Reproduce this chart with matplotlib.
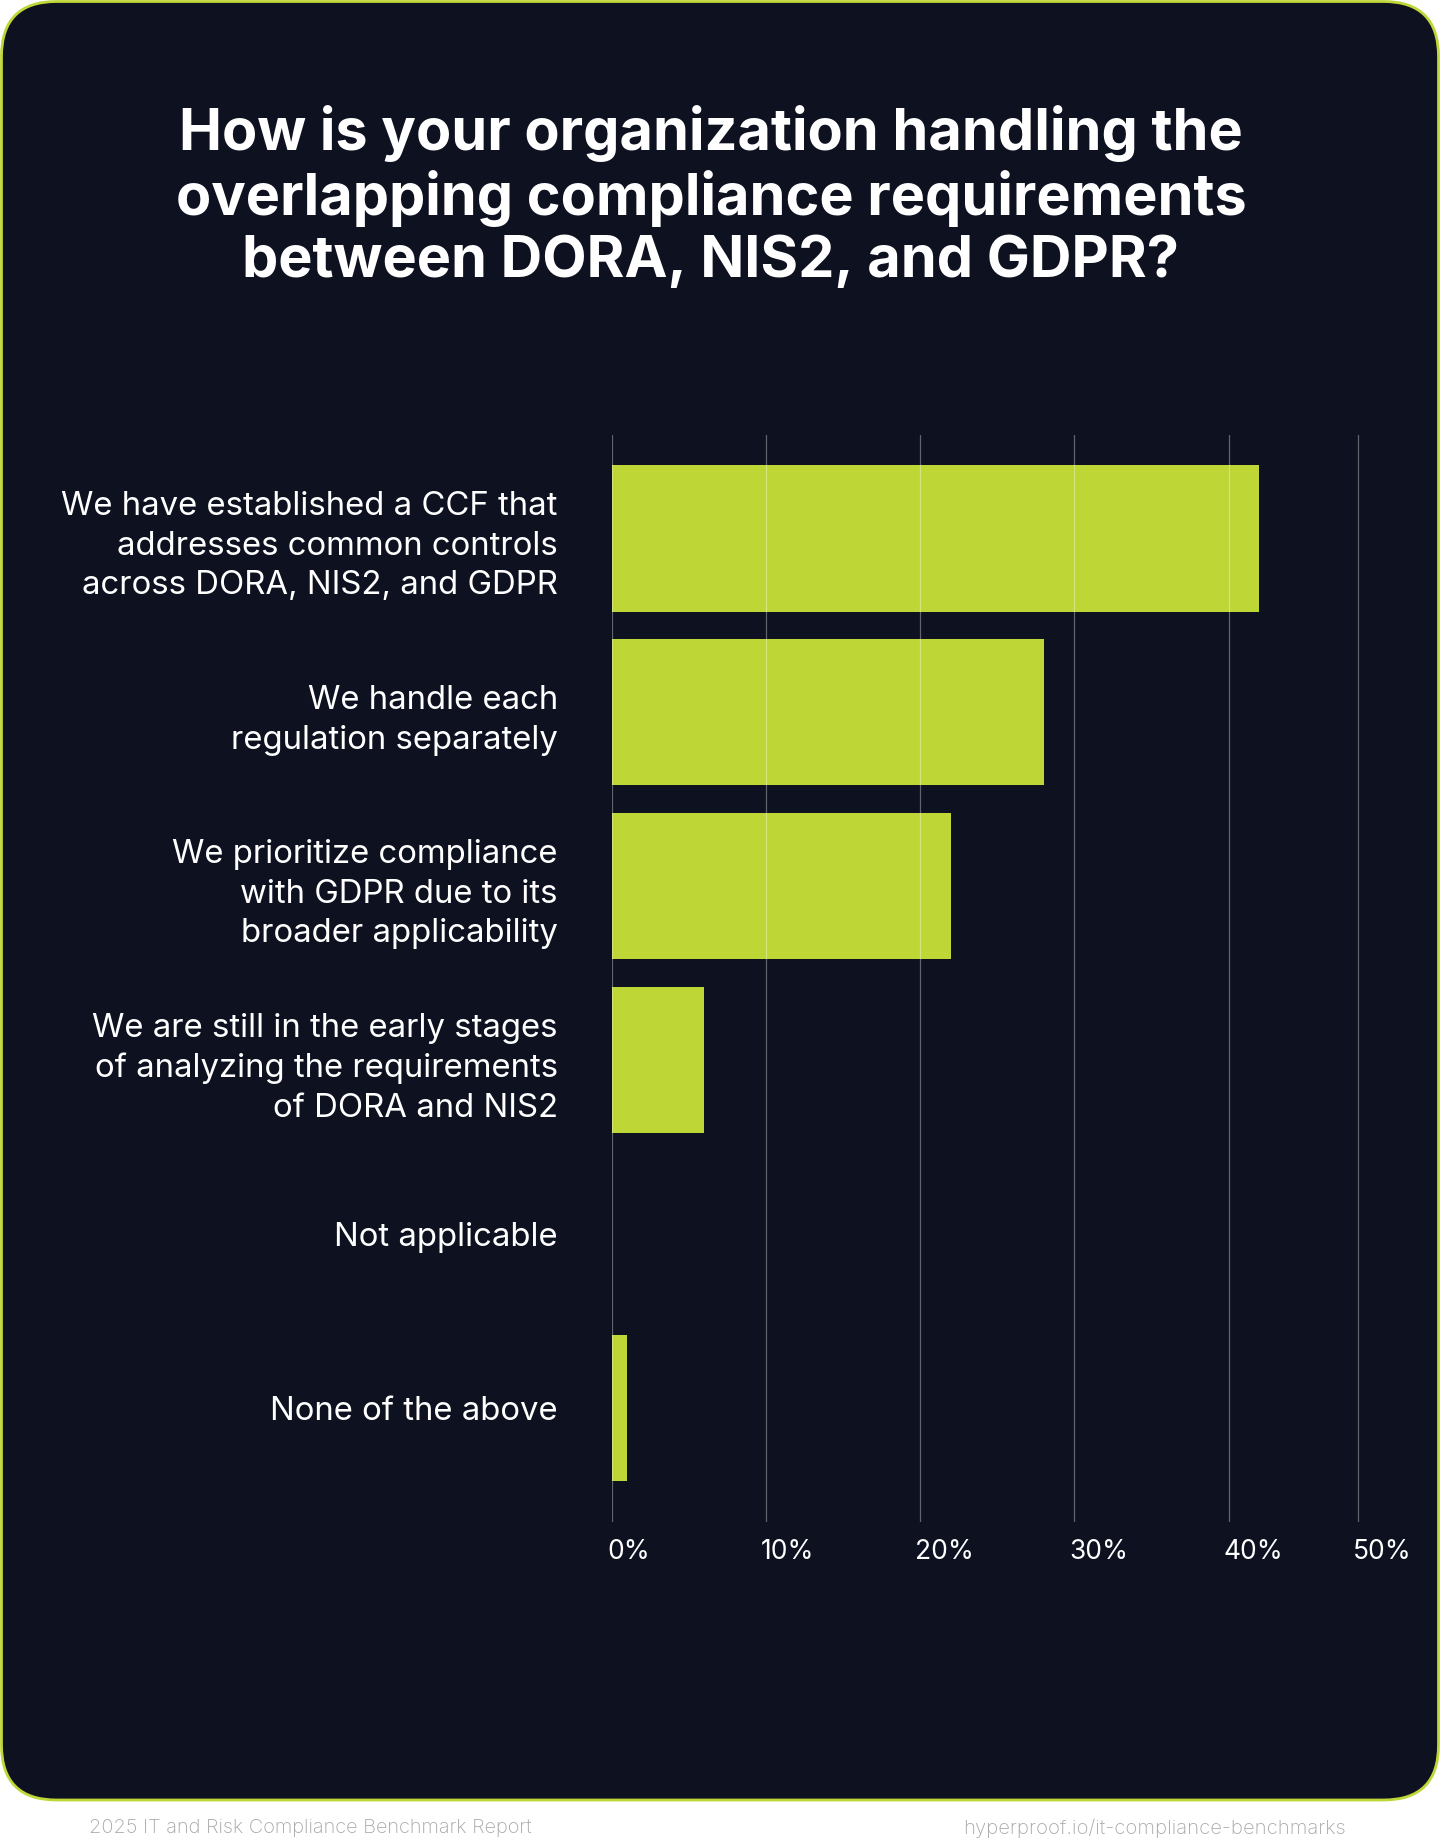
import matplotlib
matplotlib.use("Agg")
import matplotlib.pyplot as plt
from matplotlib.patches import FancyBboxPatch
from matplotlib.transforms import ScaledTranslation

# ---- data ----
categories = [
    "We have established a CCF that\naddresses common controls\nacross DORA, NIS2, and GDPR",
    "We handle each\nregulation separately",
    "We prioritize compliance\nwith GDPR due to its\nbroader applicability",
    "We are still in the early stages\nof analyzing the requirements\nof DORA and NIS2",
    "Not applicable",
    "None of the above",
]
values = [42, 28, 22, 6, 0, 1]
tick_values = [0, 10, 20, 30, 40, 48.4]
tick_labels = ["0%", "10%", "20%", "30%", "40%", "50%"]
title = ("How is your organization handling the\n"
         "overlapping compliance requirements\n"
         "between DORA, NIS2, and GDPR?")
footer_left = "2025 IT and Risk Compliance Benchmark Report"
footer_right = "hyperproof.io/it-compliance-benchmarks"

BG = "#0d1120"
LIME = "#bed736"
FONT = "Inter"

W, H = 1440, 1838
fig = plt.figure(figsize=(W / 100, H / 100), dpi=100)
fig.patch.set_facecolor("white")

# card background
bg = fig.add_axes([0, 0, 1, 1])
bg.set_xlim(0, W)
bg.set_ylim(H, 0)
bg.axis("off")
card = FancyBboxPatch((1.5, 1.5), W - 3, 1800 - 1.5,
                      boxstyle="round,pad=0,rounding_size=55",
                      facecolor=BG, edgecolor=LIME, linewidth=2)
bg.add_patch(card)

bg.text(711, 197, title, ha="center", va="center", color="white",
        fontsize=41.5, fontweight="bold", family=FONT, linespacing=1.18)
bg.text(89, 1828, footer_left, ha="left", va="center", color="#a8a8a8",
        fontsize=14.4, family=FONT, fontweight="light")
bg.text(1346, 1828, footer_right, ha="right", va="center", color="#a8a8a8",
        fontsize=14.6, family=FONT, fontweight="light")

# chart axes
xmax = 48.6
left, right = 612 / W, (612 + (1358 - 612) * xmax / 48.4) / W
top, bottom = 1 - 435 / H, 1 - 1522 / H
ax = fig.add_axes([left, bottom, right - left, top - bottom])
ax.set_facecolor("none")
ypos = list(range(len(categories)))
ax.barh(ypos, values, height=0.84, color=LIME, linewidth=0, zorder=1)
ax.set_xlim(0, xmax)
ax.set_ylim(len(categories) - 1 + 0.655, -0.595)
ax.set_xticks(tick_values)
ax.set_xticklabels(tick_labels)
ax.set_yticks(ypos)
ax.set_yticklabels(categories)
ax.set_axisbelow(False)
ax.grid(axis="x", color="white", alpha=0.35, linewidth=0.9)
ax.grid(axis="y", visible=False)
for s in ax.spines.values():
    s.set_visible(False)
ax.tick_params(axis="both", length=0)
ax.tick_params(axis="y", pad=39)
ax.tick_params(axis="x", pad=12)
for lab in ax.get_yticklabels():
    lab.set_color("white")
    lab.set_fontsize(23.7)
    lab.set_family(FONT)
    lab.set_linespacing(1.36)
    lab.set_horizontalalignment("right")
off = ScaledTranslation(-5 / 100, 0, fig.dpi_scale_trans)
for lab in ax.get_xticklabels():
    lab.set_color("white")
    lab.set_fontsize(19)
    lab.set_family(FONT)
    lab.set_horizontalalignment("left")
    lab.set_transform(lab.get_transform() + off)

fig.savefig("out.png", dpi=100, facecolor="white")
